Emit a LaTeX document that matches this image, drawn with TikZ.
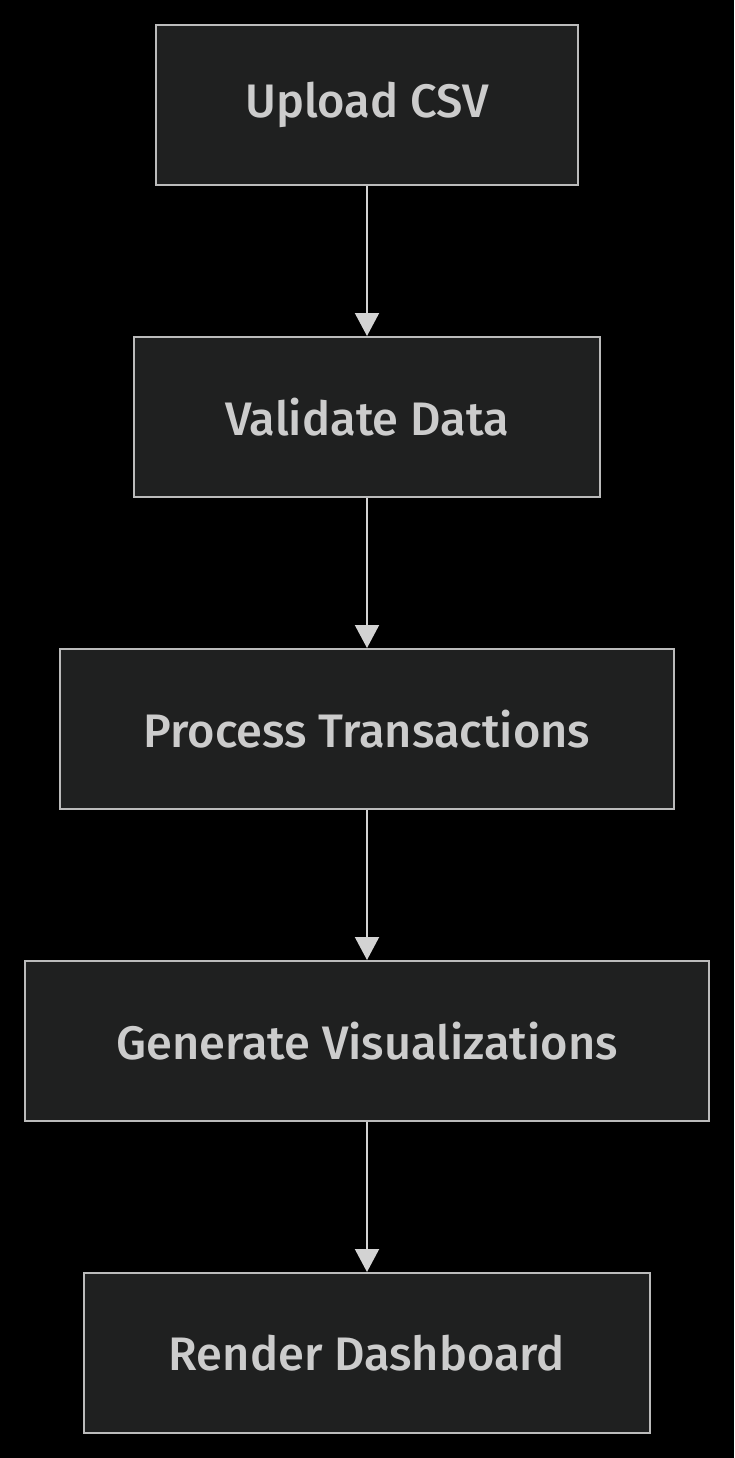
\documentclass[tikz,border=0pt]{standalone}
\usepackage{fontspec}
\setmainfont{Fira Sans}[UprightFont=* Medium]
\usetikzlibrary{arrows.meta}
\definecolor{boxfill}{HTML}{1F2020}
\definecolor{boxline}{HTML}{BBBBBB}
\definecolor{flowline}{HTML}{D3D3D3}
\definecolor{labeltext}{HTML}{CCCCCC}
\tikzset{
  stepbox/.style={draw=boxline,fill=boxfill,line width=2pt,minimum height=160pt,
    text=labeltext,font=\fontsize{47}{52}\selectfont,inner sep=0pt},
  flow/.style={draw=flowline,line width=2pt,-{Triangle[length=23pt,width=24pt]}}
}
\begin{document}
\begin{tikzpicture}[x=1pt,y=-1pt]
  \fill[black] (0,0) rectangle (734,1458);
  \useasboundingbox (0,0) rectangle (734,1458);
  \node[stepbox,minimum width=422pt] (upload)   at (367,105)  {Upload CSV};
  \node[stepbox,minimum width=466pt] (validate) at (367,417)  {Validate Data};
  \node[stepbox,minimum width=614pt] (process)  at (367,729)  {Process Transactions};
  \node[stepbox,minimum width=684pt] (generate) at (367,1041) {Generate Visualizations};
  \node[stepbox,minimum width=566pt] (render)   at (367,1353) {Render Dashboard};
  \draw[flow] (upload)   -- (validate);
  \draw[flow] (validate) -- (process);
  \draw[flow] (process)  -- (generate);
  \draw[flow] (generate) -- (render);
\end{tikzpicture}
\end{document}
